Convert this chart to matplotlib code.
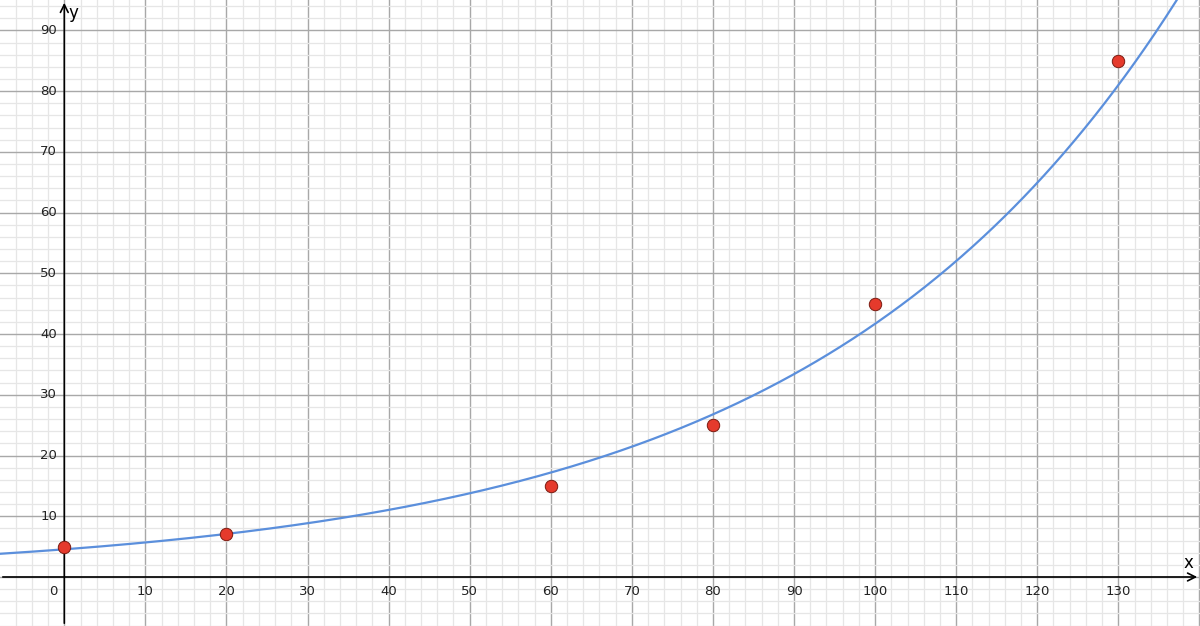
import numpy as np
import matplotlib.pyplot as plt

# data points
x_pts = [0, 20, 60, 80, 100, 130]
y_pts = [5, 7, 15, 25, 45, 85]

x_ticks = list(range(10, 131, 10))
y_ticks = list(range(10, 91, 10))

# exponential fit (least squares on log y)
b, ln_a = np.polyfit(x_pts, np.log(y_pts), 1)
a = np.exp(ln_a)

fig = plt.figure(figsize=(12, 6.26), dpi=100)
ax = fig.add_axes([0, 0, 1, 1])
ax.set_xlim(-7.93, 140.07)
ax.set_ylim(-8.07, 95.0)

# grid
for v in np.arange(-6, 141, 2):
    major = v % 10 == 0
    ax.axvline(v, color='#a8a8a8' if major else '#e6e6e6', lw=1.0 if major else 0.9, zorder=0)
for v in np.arange(-8, 96, 2):
    major = v % 10 == 0
    ax.axhline(v, color='#a8a8a8' if major else '#e6e6e6', lw=1.0 if major else 0.9, zorder=0)

# axes with arrows
ax.annotate('', xy=(140.07, 0), xytext=(-7.93, 0),
            arrowprops=dict(arrowstyle='->', color='black', lw=1.2, mutation_scale=14))
ax.annotate('', xy=(0, 95.0), xytext=(0, -8.07),
            arrowprops=dict(arrowstyle='->', color='black', lw=1.2, mutation_scale=14))
ax.text(138.6, 0.8, 'x', fontsize=12, ha='center', va='bottom')
ax.text(0.5, 94.3, 'y', fontsize=12, ha='left', va='top')

for t in x_ticks:
    ax.text(t, -1.3, str(t), fontsize=9.5, ha='center', va='top', color='#222222')
for t in y_ticks:
    ax.text(-0.9, t, str(t), fontsize=9.5, ha='right', va='center', color='#222222')
ax.text(-0.9, -1.3, '0', fontsize=9.5, ha='right', va='top', color='#222222')

# curve
xs = np.linspace(-8, 141, 600)
ax.plot(xs, a * np.exp(b * xs), color='#5b8fdc', lw=1.6, zorder=3)

# points
ax.scatter(x_pts, y_pts, s=80, color='#e53a2c', edgecolor='#7a1a10', linewidth=0.7, zorder=4)

ax.set_axis_off()
fig.savefig('out.png', dpi=100)
